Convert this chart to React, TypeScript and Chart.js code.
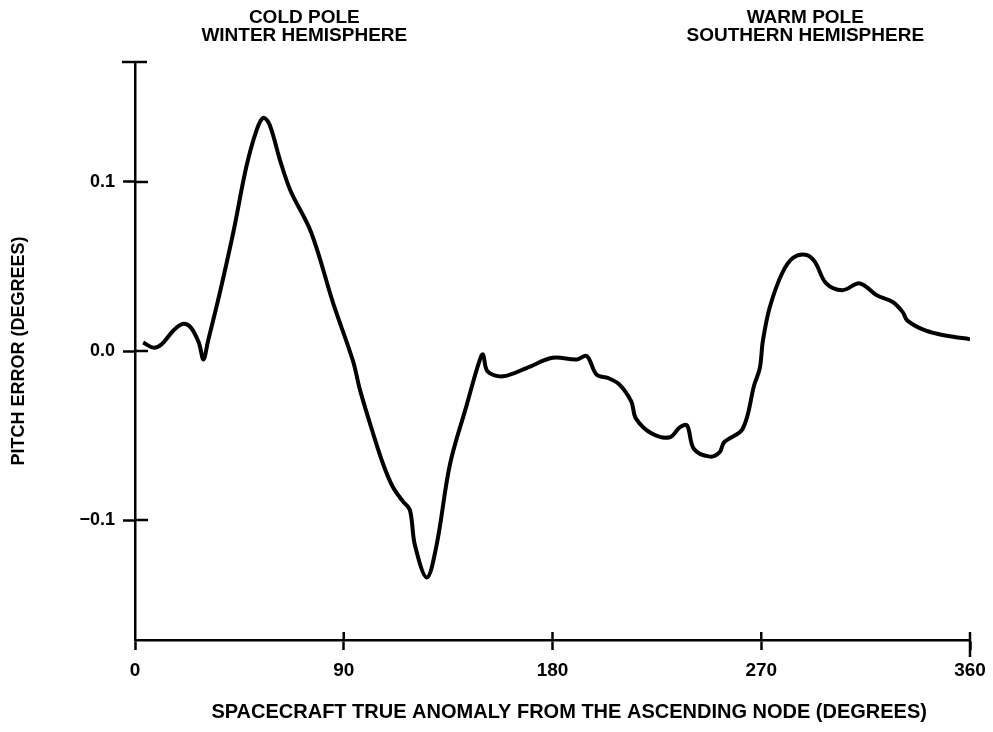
import React, { useEffect, useRef } from "react";
import { Chart, registerables } from "chart.js";

Chart.register(...registerables);

// True anomaly (degrees) of each traced point
const anomalyDeg = [
  3.5, 8, 11.5, 16.5, 20.5, 24, 27.5, 29.5, 31.5, 36.5, 42.5, 48, 52.5, 55.3, 58,
  62.5, 67, 76, 85.5, 94, 97, 102.7, 107, 111, 115.5, 118.5, 120.7, 125.8, 130,
  135.8, 143, 148, 150, 152, 158.6, 169, 180, 190.5, 194.8, 199, 204, 209, 214,
  216, 223, 230.6, 235, 238, 241, 247.8, 252, 254, 262, 267, 269.4, 270.7, 273.7,
  279, 283.6, 289, 293, 298, 305, 312.5, 319.8, 326.7, 331, 333, 341, 350, 360,
];

// Pitch error (degrees) at each point
const pitchError = [
  0.005, 0.002, 0.004, 0.012, 0.016, 0.014, 0.005, -0.005, 0.006, 0.034, 0.071, 0.109, 0.131, 0.138, 0.134,
  0.113, 0.095, 0.070, 0.028, -0.006, -0.023, -0.049, -0.067, -0.080, -0.089, -0.094, -0.115, -0.134, -0.115,
  -0.067, -0.032, -0.008, -0.002, -0.012, -0.015, -0.010, -0.004, -0.005, -0.003, -0.014, -0.016, -0.020, -0.030,
  -0.040, -0.049, -0.051, -0.045, -0.044, -0.058, -0.0625, -0.060, -0.054, -0.046, -0.020, -0.010, 0.006, 0.026,
  0.046, 0.055, 0.057, 0.053, 0.040, 0.036, 0.040, 0.033, 0.029, 0.023, 0.018, 0.012, 0.009, 0.007,
];

const xTickValues = [0, 90, 180, 270, 360];
const yTickValues = [-0.1, 0, 0.1];
const yTickLabels = ["\u22120.1", "0.0", "0.1"];

const poleLabelDeg = [73, 289];
const poleLabelLines = [
  ["COLD POLE", "WINTER HEMISPHERE"],
  ["WARM POLE", "SOUTHERN HEMISPHERE"],
];

const FONT = '"Liberation Sans", Arial, sans-serif';

const decorPlugin = {
  id: "decor",
  afterDraw(chart: any) {
    const { ctx, chartArea, scales } = chart;
    const x = scales.x;
    const y = scales.y;
    ctx.save();
    ctx.strokeStyle = "#000";
    ctx.lineWidth = 2.5;
    const seg = (x1: number, y1: number, x2: number, y2: number) => {
      ctx.beginPath();
      ctx.moveTo(x1, y1);
      ctx.lineTo(x2, y2);
      ctx.stroke();
    };
    // inner halves of y ticks
    y.ticks.forEach((t: any) => {
      const py = y.getPixelForValue(t.value);
      seg(chartArea.left, py, chartArea.left + 13, py);
    });
    // top cap of the y axis
    seg(chartArea.left - 13, chartArea.top, chartArea.left + 12, chartArea.top);
    // inner halves of x ticks
    x.ticks.forEach((t: any) => {
      if (t.value === x.min) return;
      const px = x.getPixelForValue(t.value);
      seg(px, chartArea.bottom, px, chartArea.bottom - 8);
    });
    // longer end tick
    const pe = x.getPixelForValue(x.max);
    seg(pe, chartArea.bottom, pe, chartArea.bottom + 17);

    // pole labels
    ctx.fillStyle = "#000";
    ctx.font = `bold 19px ${FONT}`;
    ctx.textAlign = "center";
    ctx.textBaseline = "middle";
    poleLabelDeg.forEach((d, i) => {
      const px = x.getPixelForValue(d);
      poleLabelLines[i].forEach((line, j) => {
        ctx.fillText(line, px, 18 + j * 18);
      });
    });
    ctx.restore();
  },
};

export default function App() {
  const ref = useRef<HTMLCanvasElement | null>(null);

  useEffect(() => {
    if (!ref.current) return;
    const points = anomalyDeg.map((d, i) => ({ x: d, y: pitchError[i] }));
    const chart = new Chart(ref.current, {
      type: "line",
      data: {
        datasets: [
          {
            data: points,
            borderColor: "#000",
            borderWidth: 4,
            pointRadius: 0,
            tension: 0.35,
            fill: false,
          },
        ],
      },
      options: {
        responsive: false,
        animation: false,
        devicePixelRatio: 1,
        layout: { padding: { left: 0, right: 23, top: 62, bottom: 0 } },
        plugins: { legend: { display: false }, tooltip: { enabled: false }, title: { display: false } },
        scales: {
          x: {
            type: "linear",
            min: 0,
            max: 360,
            afterBuildTicks: (s: any) => {
              s.ticks = xTickValues.map((v) => ({ value: v }));
            },
            afterFit: (s: any) => {
              s.height = 92;
              s.paddingLeft = 0;
              s.paddingRight = 0;
            },
            grid: {
              drawOnChartArea: false,
              drawTicks: true,
              tickLength: 10,
              tickWidth: 2.5,
              tickColor: "#000",
            },
            border: { display: true, color: "#000", width: 2.5 },
            ticks: {
              color: "#000",
              padding: 9,
              maxRotation: 0,
              font: { family: FONT, size: 19, weight: "bold" },
              callback: (v: any) => String(v),
            },
            title: {
              display: true,
              text: "      SPACECRAFT TRUE ANOMALY FROM THE ASCENDING NODE (DEGREES)",
              color: "#000",
              font: { family: FONT, size: 20, weight: "bold" },
              padding: { top: 0, bottom: 8 },
            },
          },
          y: {
            type: "linear",
            min: -0.171,
            max: 0.171,
            afterBuildTicks: (s: any) => {
              s.ticks = yTickValues.map((v) => ({ value: v }));
            },
            afterFit: (s: any) => {
              s.width = 135;
              s.paddingTop = 0;
              s.paddingBottom = 0;
            },
            grid: {
              drawOnChartArea: false,
              drawTicks: true,
              tickLength: 12,
              tickWidth: 2.5,
              tickColor: "#000",
            },
            border: { display: true, color: "#000", width: 2.5 },
            ticks: {
              color: "#000",
              padding: 8,
              font: { family: FONT, size: 18, weight: "bold" },
              callback: (v: any) => {
                const i = yTickValues.findIndex((t) => Math.abs(t - v) < 1e-9);
                return i >= 0 ? yTickLabels[i] : "";
              },
            },
            title: {
              display: true,
              text: "PITCH ERROR (DEGREES)",
              color: "#000",
              font: { family: FONT, size: 18, weight: "bold" },
              padding: { top: 8, bottom: 0 },
            },
          },
        },
      },
      plugins: [decorPlugin],
    });
    return () => chart.destroy();
  }, []);

  return (
    <div style={{ position: "absolute", left: 0, top: 0, width: 993, height: 732, background: "#fff" }}>
      <canvas ref={ref} width={993} height={732} style={{ display: "block" }} />
    </div>
  );
}
